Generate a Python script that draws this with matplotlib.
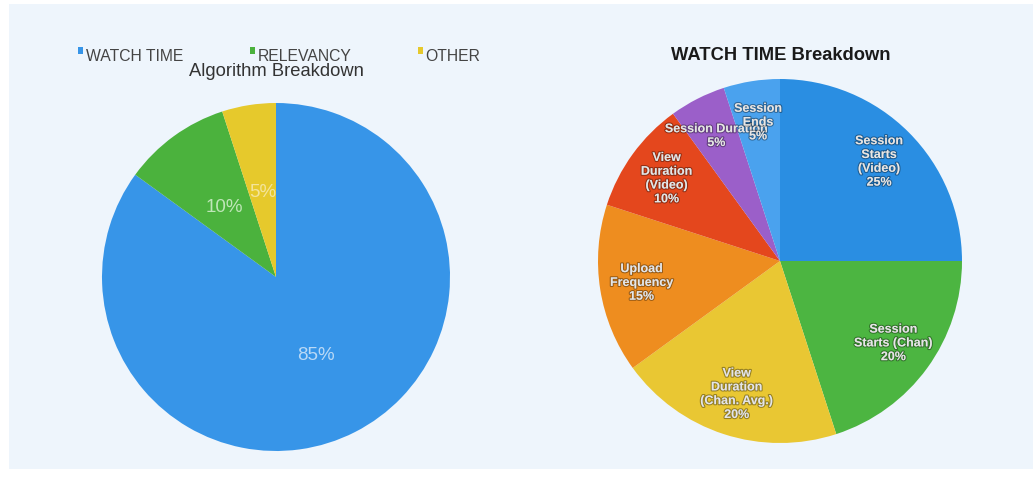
import matplotlib
matplotlib.use("Agg")
import matplotlib.pyplot as plt
import matplotlib.patheffects as pe
from matplotlib.patches import Rectangle
import numpy as np

# ---- data ----
algo_labels = ["WATCH TIME", "RELEVANCY", "OTHER"]
algo_values = [85, 10, 5]
algo_pct_text = ["85%", "10%", "5%"]

wt_labels = ["Session\nStarts\n(Video)", "Session\nStarts (Chan)", "View\nDuration\n(Chan. Avg.)",
             "Upload\nFrequency", "View\nDuration\n(Video)", "Session Duration", "Session\nEnds"]
wt_values = [25, 20, 20, 15, 10, 5, 5]

# ---- styles ----
algo_colors = ["#3795e8", "#4bb23d", "#e6c92c"]
algo_text_colors = ["#b9d9f6", "#bfe6b8", "#f3e49c"]
wt_colors = ["#2a8ee2", "#4cb541", "#e9c733", "#ee8d1f", "#e4471d", "#9b5fc9", "#4aa2ee"]

W, H = 1033, 481
fig = plt.figure(figsize=(W / 100, H / 100), dpi=100)
fig.patch.set_facecolor("white")
fig.patches.append(Rectangle((9 / W, (H - 470) / H), 1 - 9 / W, (470 - 5) / H,
                             transform=fig.transFigure, facecolor="#eef5fc",
                             edgecolor="none", zorder=-10))

def px_axes(x0, y0, x1, y1):
    return fig.add_axes([x0 / W, (H - y1) / H, (x1 - x0) / W, (y1 - y0) / H])

# ---- left pie ----
ax1 = px_axes(102, 104, 450, 452)
ax1.set_zorder(1)
wedges1, _ = ax1.pie(algo_values, colors=algo_colors, startangle=90, counterclock=False,
                     radius=1.0, wedgeprops=dict(linewidth=0))
ang = 90.0
for w, v, t, c in zip(wedges1, algo_values, algo_pct_text, algo_text_colors):
    mid = ang - v * 3.6 / 2
    ang -= v * 3.6
    d = 0.5
    ax1.text(d * np.cos(np.radians(mid)), d * np.sin(np.radians(mid)), t,
             ha="center", va="center", fontsize=13.5, color=c,
             family="Liberation Sans")
ax1.set_xlim(-1, 1); ax1.set_ylim(-1, 1); ax1.set_aspect("equal"); ax1.axis("off")

fig.text(276 / W, 1 - 72 / H, "Algorithm Breakdown", ha="center", va="center",
         fontsize=13.2, color="#333333", family="Liberation Sans", zorder=3)

leg = fig.legend(wedges1, algo_labels, loc="center left",
                 bbox_to_anchor=(64 / W, 1 - 57 / H), ncol=3, frameon=False,
                 handlelength=0.32, handleheight=0.32, handletextpad=0.2,
                 columnspacing=4.2, prop=dict(family="Liberation Sans", size=11.3))
for t in leg.get_texts():
    t.set_color("#444444")
for h in leg.legend_handles:
    h.set_y(h.get_y() + 3)

# ---- right pie ----
ax2 = px_axes(598, 80, 962, 444)
ax2.set_zorder(1)
pct = [f"{v}%" for v in wt_values]
full_labels = [f"{l}\n{p}" for l, p in zip(wt_labels, pct)]
wedges2, texts2 = ax2.pie(wt_values, colors=wt_colors, startangle=90, counterclock=False,
                          radius=1.0, labels=full_labels, labeldistance=0.77,
                          wedgeprops=dict(linewidth=0),
                          textprops=dict(ha="center", va="center", fontsize=9.0,
                                         color="#e6e6e6", family="Liberation Sans",
                                         fontweight="bold", linespacing=1.2))
for t in texts2:
    t.set_ha("center")
    t.set_path_effects([pe.withStroke(linewidth=1.6, foreground=(0, 0, 0, 0.35))])
ax2.set_xlim(-1, 1); ax2.set_ylim(-1, 1); ax2.set_aspect("equal"); ax2.axis("off")

fig.text(781 / W, 1 - 55 / H, "WATCH TIME Breakdown", ha="center", va="center",
         fontsize=13.2, fontweight="bold", color="#1a1a1a", family="Liberation Sans")

fig.savefig("out.png", dpi=100, facecolor=fig.get_facecolor())
